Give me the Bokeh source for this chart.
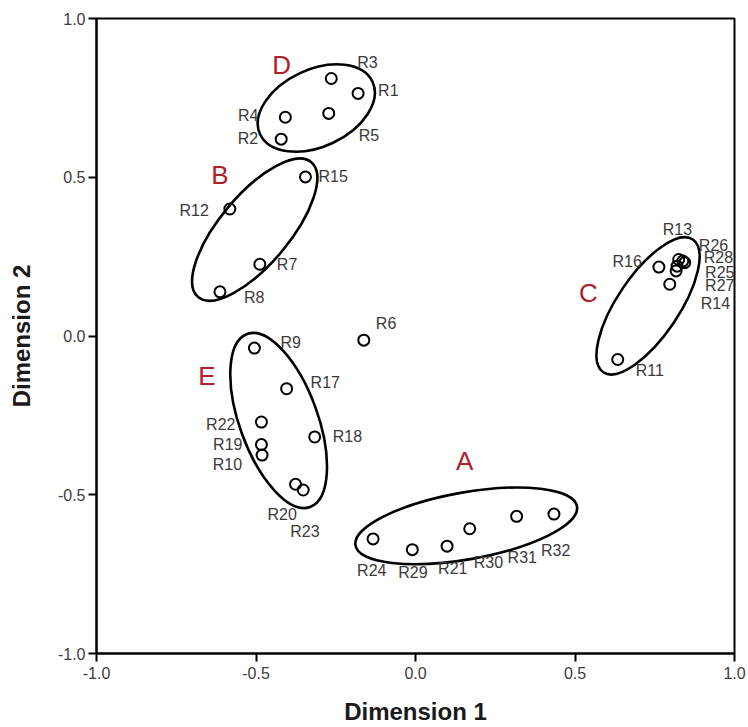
from bokeh.plotting import figure
from bokeh.models import Range1d, FixedTicker, NumeralTickFormatter, ColumnDataSource
from bokeh.core.properties import value
from bokeh.embed import file_html
from bokeh.resources import INLINE

# Two-dimensional configuration of 32 items (R1..R32)
names = [f"R{i}" for i in range(1, 33)]
dim1 = [-0.180, -0.421, -0.264, -0.408, -0.272, -0.162, -0.488, -0.613,
        -0.505, -0.481, 0.634, -0.582, 0.825, 0.797, -0.345, 0.763,
        -0.404, -0.316, -0.483, -0.376, 0.099, -0.483, -0.352, -0.133,
        0.820, 0.838, 0.817, 0.844, -0.010, 0.170, 0.317, 0.434]
dim2 = [0.764, 0.620, 0.811, 0.689, 0.701, -0.013, 0.226, 0.139,
        -0.038, -0.375, -0.074, 0.400, 0.241, 0.163, 0.501, 0.217,
        -0.166, -0.318, -0.342, -0.467, -0.662, -0.271, -0.485, -0.639,
        0.220, 0.236, 0.205, 0.231, -0.673, -0.607, -0.568, -0.561]

# Cluster outlines: centre, full width / height (data units), rotation (deg)
groups = ["D", "B", "E", "A", "C"]
group_cx = [-0.311, -0.504, -0.429, 0.159, 0.729]
group_cy = [0.718, 0.335, -0.266, -0.598, 0.095]
group_w = [0.389, 0.552, 0.577, 0.705, 0.502]
group_h = [0.243, 0.219, 0.246, 0.211, 0.194]
group_angle = [25, 50, 110, 10, 56]

# Where each cluster letter sits
letter_x = [-0.420, -0.613, -0.654, 0.154, 0.542]
letter_y = [0.853, 0.508, -0.125, -0.393, 0.135]

# Point label placement: pixel offset from the marker and alignment
label_place = {
    "R1": (20, -3, "left"), "R2": (-23, -1, "right"), "R3": (26, -16, "left"),
    "R4": (-27, -2, "right"), "R5": (30, 22, "left"), "R6": (12, -17, "left"),
    "R7": (17, 0, "left"), "R8": (24, 6, "left"), "R9": (26, -6, "left"),
    "R10": (-20, 9, "right"), "R11": (18, 11, "left"), "R12": (-21, 1, "right"),
    "R13": (-16, -30, "left"), "R14": (31, 19, "left"), "R15": (13, 0, "left"),
    "R16": (-17, -6, "right"), "R17": (24, -6, "left"), "R18": (18, 0, "left"),
    "R19": (-19, 0, "right"), "R20": (-28, 30, "left"), "R21": (-9, 22, "left"),
    "R22": (-26, 2, "right"), "R23": (-13, 42, "left"), "R24": (-16, 32, "left"),
    "R25": (28, 6, "left"), "R26": (16, -16, "left"), "R27": (29, 15, "left"),
    "R28": (19, -5, "left"), "R29": (-14, 23, "left"), "R30": (4, 34, "left"),
    "R31": (-9, 41, "left"), "R32": (-13, 36, "left"),
}

FONT = "Liberation Sans"

p = figure(width=748, height=727, output_backend="svg", toolbar_location=None,
           x_range=Range1d(-1, 1), y_range=Range1d(-1, 1),
           min_border_left=96, min_border_right=14,
           min_border_top=18, min_border_bottom=71,
           x_axis_label="Dimension 1", y_axis_label="Dimension 2")
p.grid.visible = False
p.background_fill_color = "white"
p.border_fill_color = "white"
p.outline_line_color = "black"
p.outline_line_width = 2

ticks = [-1.0, -0.5, 0.0, 0.5, 1.0]
for ax in (p.xaxis[0], p.yaxis[0]):
    ax.ticker = FixedTicker(ticks=ticks)
    ax.formatter = NumeralTickFormatter(format="0.0")
    ax.axis_line_width = 2
    ax.axis_line_color = "black"
    ax.major_tick_line_width = 2
    ax.major_tick_line_color = "black"
    ax.major_tick_out = 8
    ax.major_tick_in = 0
    ax.minor_tick_line_color = None
    ax.major_label_text_font = FONT
    ax.major_label_text_font_size = "16px"
    ax.major_label_text_color = "#3c3c3c"
    ax.axis_label_text_font = FONT
    ax.axis_label_text_font_size = "24px"
    ax.axis_label_text_font_style = "bold"
    ax.axis_label_text_color = "#1a1a1a"
p.xaxis.major_label_standoff = 5
p.yaxis.major_label_standoff = 3
p.xaxis.axis_label_standoff = 16
p.yaxis.axis_label_standoff = 20

# cluster ellipses
p.ellipse(x=group_cx, y=group_cy, width=group_w, height=group_h,
          angle=group_angle, angle_units="deg",
          fill_color=None, line_color="black", line_width=2.6)

# items
p.scatter(x=dim1, y=dim2, marker="circle", size=11,
          fill_alpha=0, line_color="black", line_width=2)

# item labels
src = ColumnDataSource(dict(
    x=dim1, y=dim2, text=names,
    dx=[label_place[n][0] for n in names],
    dy=[label_place[n][1] for n in names],
    align=[label_place[n][2] for n in names],
))
p.text(x="x", y="y", text="text", x_offset="dx", y_offset="dy",
       text_align="align", text_baseline="middle", source=src,
       text_font=value(FONT), text_font_size="16px", text_color="#3a3a3a")

# cluster letters
p.text(x=letter_x, y=letter_y, text=groups, text_align="center",
       text_baseline="middle", text_font=value(FONT),
       text_font_size="26px", text_color="#b0202a")

open("out.html", "w").write(file_html(p, INLINE))
